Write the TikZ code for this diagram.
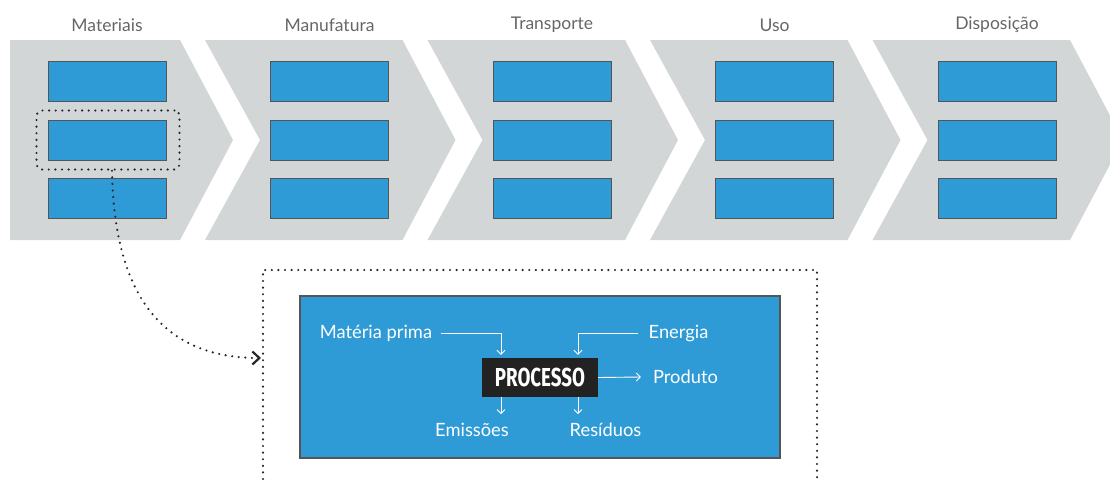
\documentclass[tikz,border=0pt]{standalone}
\usepackage{fontspec}
\setmainfont{Lato}
\newfontfamily\procfont[FakeStretch=0.72]{Fira Sans}
\usetikzlibrary{arrows.meta}
\definecolor{chevgray}{HTML}{D3D6D6}
\definecolor{cellblue}{HTML}{2E9BD6}
\definecolor{edgegray}{HTML}{555555}
\definecolor{stagegray}{HTML}{666666}
\definecolor{procblack}{HTML}{222222}
\tikzset{
  chevron/.style={fill=chevgray},
  cellbox/.style={draw=edgegray, line width=1pt, fill=cellblue,
    minimum width=118pt, minimum height=40pt, inner sep=0pt},
  stagelabel/.style={text=stagegray, inner sep=0pt,
    font=\fontsize{17.5}{20}\selectfont},
  dotline/.style={draw=black!85, line width=2.4pt, line cap=round,
    dash pattern=on 0pt off 6.6pt},
  bluebox/.style={draw=edgegray, line width=2pt, fill=cellblue,
    minimum width=480pt, minimum height=162pt, inner sep=0pt},
  procbox/.style={fill=procblack, text=white, minimum width=116pt,
    minimum height=39pt, inner sep=0pt,
    font=\procfont\bfseries\fontsize{26}{26}\selectfont},
  flowtext/.style={text=white, inner sep=0pt,
    font=\fontsize{18.3}{21}\selectfont},
  flow/.style={draw=white, line width=0.9pt,
    -{Straight Barb[length=4pt,width=8pt,line width=0.9pt]}},
}
\begin{document}
\begin{tikzpicture}[x=1pt,y=-1pt]
\useasboundingbox (0,0) rectangle (1110,479);

% life-cycle stages as chevrons
\fill[chevron] (10,40) -- (180,40) -- (233,140) -- (180,240) -- (10,240) -- cycle;
\foreach \i in {1,...,4}{
  \pgfmathsetmacro\xa{205+222.5*(\i-1)}
  \fill[chevron] (\xa,40) -- ++(197.5,0) -- ++(53,100) -- ++(-53,100)
    -- ++(-197.5,0) -- ++(55,-100) -- cycle;
}

% stage titles
\foreach \i/\name in {1/Materiais,2/Manufatura,3/Transporte,4/Uso,5/Disposição}{
  \pgfmathsetmacro\xc{107+222.5*(\i-1)}
  \node[stagelabel] (stage-\i) at (\xc,25) {\name};
}

% three process cells per stage
\foreach \i in {1,...,5}{
  \pgfmathsetmacro\xc{107+222.5*(\i-1)}
  \foreach \j/\yc in {1/81,2/140,3/198}{
    \node[cellbox] (cell-\i-\j) at (\xc,\yc) {};
  }
}

% highlighted cell and its detail frame
\node[dotline, rounded corners=5pt, minimum width=143pt, minimum height=59pt,
  inner sep=0pt] (sel) at (108,140) {};
\draw[dotline] (263,479) -- (263,270) -- (817,270) -- (817,479);
\coordinate (entry) at (261,358);
\draw[dotline, -{Straight Barb[length=7pt,width=13pt,line width=2.2pt]}]
  ([xshift=4pt]sel.south) .. controls (114,292) and (160,358) .. (entry);

% detail of one process
\node[bluebox] (detail) at (540,377) {};
\node[procbox] (proc) at (540,377.5) {PROCESSO};

\node[flowtext] (mp)  at (376,333) {Matéria prima};
\node[flowtext] (en)  at (678.5,333) {Energia};
\node[flowtext] (pr)  at (685.5,377) {Produto};
\node[flowtext] (em)  at (472,430) {Emissões};
\node[flowtext] (re)  at (605.5,430) {Resíduos};

\draw[flow] ([xshift=9pt]mp.east) -| ([xshift=-39pt,yshift=3pt]proc.north);
\draw[flow] ([xshift=-10pt]en.west) -| ([xshift=38pt,yshift=3pt]proc.north);
\draw[flow] (proc.east) -- ([xshift=-12pt]pr.west);
\draw[flow] ([xshift=-39pt]proc.south) -- ++(0,17);
\draw[flow] ([xshift=38pt]proc.south) -- ++(0,17);
\end{tikzpicture}
\end{document}
